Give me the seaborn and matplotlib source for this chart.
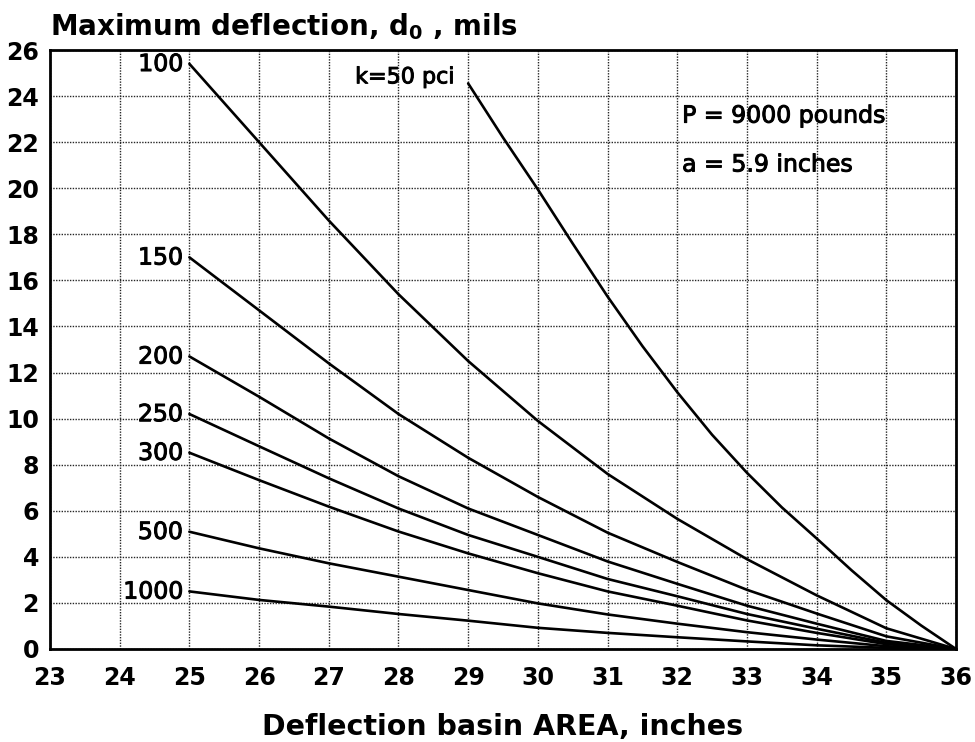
import numpy as np
import pandas as pd
import matplotlib
matplotlib.use("Agg")
import matplotlib.pyplot as plt
import matplotlib.patheffects as pe
import seaborn as sns

# values, d0 (mils) against AREA (inches)
area = [25, 26, 27, 28, 29, 30, 31, 32, 33, 34, 35, 36]
area_k50 = [29, 29.5, 30, 30.5, 31, 31.5, 32, 32.5, 33, 33.5, 34, 34.5, 35, 35.5, 36]

d_k50 = [24.55, 22.2, 19.95, 17.6, 15.3, 13.15, 11.15, 9.3, 7.65, 6.15, 4.8, 3.42, 2.12, 1.02, 0]
d_k100 = [25.4, 22.0, 18.6, 15.4, 12.5, 9.9, 7.6, 5.65, 3.9, 2.33, 0.9, 0]
d_k150 = [17.0, 14.7, 12.4, 10.2, 8.3, 6.6, 5.05, 3.78, 2.57, 1.54, 0.55, 0]
d_k200 = [12.7, 10.95, 9.14, 7.5, 6.1, 4.95, 3.8, 2.83, 1.88, 1.1, 0.35, 0]
d_k250 = [10.2, 8.8, 7.41, 6.1, 4.95, 4.0, 3.04, 2.29, 1.52, 0.88, 0.27, 0]
d_k300 = [8.52, 7.33, 6.18, 5.1, 4.15, 3.29, 2.5, 1.88, 1.24, 0.70, 0.21, 0]
d_k500 = [5.09, 4.37, 3.72, 3.14, 2.56, 1.98, 1.5, 1.1, 0.73, 0.41, 0.12, 0]
d_k1000 = [2.5, 2.13, 1.84, 1.52, 1.23, 0.92, 0.7, 0.51, 0.33, 0.16, 0.05, 0]

k_values = [100, 150, 200, 250, 300, 500, 1000]
k_series = [d_k100, d_k150, d_k200, d_k250, d_k300, d_k500, d_k1000]

x_ticks = list(range(23, 37))
y_ticks = list(range(0, 27, 2))

rows = []
for x, d in zip(area_k50, d_k50):
    rows.append({"area": x, "d0": d, "k": 50})
for k, ser in zip(k_values, k_series):
    for x, d in zip(area, ser):
        rows.append({"area": x, "d0": d, "k": k})
df = pd.DataFrame(rows)

sns.set_theme(style="white")
plt.rcParams["font.family"] = ["DejaVu Sans"]
plt.rcParams["text.color"] = "black"
plt.rcParams["axes.labelcolor"] = "black"
plt.rcParams["xtick.color"] = "black"
plt.rcParams["ytick.color"] = "black"
plt.rcParams["mathtext.fontset"] = "custom"
plt.rcParams["mathtext.rm"] = "DejaVu Sans:bold"
plt.rcParams["mathtext.it"] = "DejaVu Sans:italic:bold"

fig = plt.figure(figsize=(9.75, 7.42), dpi=100)
ax = fig.add_axes([50 / 975, 1 - 649 / 742, 906 / 975, 599 / 742])

sns.lineplot(data=df, x="area", y="d0", hue="k", units="k", estimator=None,
             palette={k: "black" for k in [50] + k_values}, linewidth=1.9,
             legend=False, sort=True, ax=ax)

ax.set_xlim(23, 36)
ax.set_ylim(0, 26)
ax.set_xticks(x_ticks)
ax.set_yticks(y_ticks)
ax.grid(True, color="0.15", linestyle=(0, (1, 1)), linewidth=1.0)
ax.set_axisbelow(True)

for s in ax.spines.values():
    s.set_color("black")
    s.set_linewidth(2.0)
    s.set_visible(True)

ax.tick_params(axis="x", direction="in", length=6, width=1.6, color="black",
               pad=12, labelsize=17)
ax.tick_params(axis="y", length=0, pad=8, labelsize=17)
for lab in ax.get_xticklabels() + ax.get_yticklabels():
    lab.set_fontweight("bold")

ax.set_xlabel("Deflection basin AREA, inches", fontsize=20.5, fontweight="bold",
              va="baseline")
ax.xaxis.set_label_coords(0.5, -0.1436)
ax.set_ylabel("")
ax.text(0, 1.024, r"Maximum deflection, d$_{\mathit{0}}$ , mils", transform=ax.transAxes,
        ha="left", va="baseline", fontsize=20, fontweight="bold")

thick = [pe.withStroke(linewidth=0.7, foreground="black")]

# curve labels next to each starting point
for k, ser in zip(k_values, k_series):
    ax.text(24.91, ser[0] + 0.1, str(k), ha="right", va="center_baseline",
            fontsize=17, path_effects=thick)
ax.text(28.81, 24.9, "k=50 pci", ha="right", va="center_baseline", fontsize=16,
        path_effects=thick)

ax.text(32.07, 23.26, "P = 9000 pounds", ha="left", va="center_baseline",
        fontsize=17, path_effects=thick)
ax.text(32.07, 21.14, "a = 5.9 inches", ha="left", va="center_baseline",
        fontsize=17, path_effects=thick)

fig.savefig("out.png", dpi=100, facecolor="white")
